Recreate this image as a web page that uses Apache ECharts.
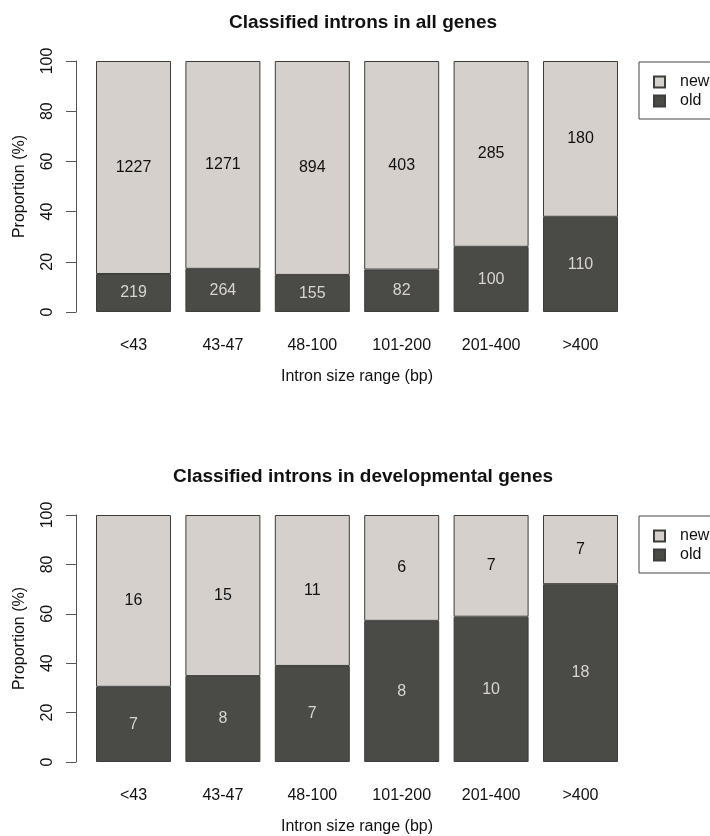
<!DOCTYPE html>
<html>
<head>
<meta charset="utf-8">
<script src="https://cdn.jsdelivr.net/npm/echarts@6/dist/echarts.min.js"></script>
<style>
html,body{margin:0;padding:0;background:#fff;}
#c{width:710px;height:836px;}
</style>
</head>
<body>
<div id="c"></div>
<script>
// ---- data ----
var categories = ['<43', '43-47', '48-100', '101-200', '201-400', '>400'];
var allOld = [219, 264, 155, 82, 100, 110];
var allNew = [1227, 1271, 894, 403, 285, 180];
var devOld = [7, 8, 7, 8, 10, 18];
var devNew = [16, 15, 11, 6, 7, 7];
var yTicks = [0, 20, 40, 60, 80, 100];
var titles = ['Classified introns in all genes', 'Classified introns in developmental genes'];

var FONT = '"Liberation Sans", Arial, Helvetica, sans-serif';
var NEW_COLOR = '#d5d0cc';
var OLD_COLOR = '#4a4a47';
var BORDER = '#3d3d3b';

function pct(a, b) {
  return a.map(function (v, i) { return { value: v / (v + b[i]) * 100, count: v }; });
}

var gridTops = [61, 515];
var gridH = 251;
var gridLeft = 88.8;
var gridW = 536.4;
var axisX = 76;

var option = {
  backgroundColor: '#ffffff',
  animation: false,
  textStyle: { fontFamily: FONT },
  title: [],
  legend: [],
  grid: [],
  xAxis: [],
  yAxis: [],
  series: []
};

var sets = [[allOld, allNew], [devOld, devNew]];

sets.forEach(function (s, gi) {
  var top = gridTops[gi];
  option.title.push({
    text: titles[gi],
    left: 358,
    textAlign: 'center',
    top: top - 53,
    textStyle: { fontFamily: FONT, fontSize: 19, fontWeight: 'bold', color: '#111' }
  });
  option.grid.push({ left: gridLeft, top: top, width: gridW, height: gridH, containLabel: false });
  option.xAxis.push({
    type: 'category',
    gridIndex: gi,
    data: categories,
    axisLine: { show: false },
    axisTick: { show: false },
    axisLabel: { margin: 26, fontSize: 16, color: '#111', fontFamily: FONT },
    name: 'Intron size range (bp)',
    nameLocation: 'middle',
    nameGap: 57,
    nameTextStyle: { fontSize: 16, color: '#111', fontFamily: FONT }
  });
  option.yAxis.push({
    type: 'value',
    gridIndex: gi,
    min: 0, max: 100, interval: 20,
    offset: gridLeft - axisX,
    splitLine: { show: false },
    axisLine: { show: true, lineStyle: { color: '#555', width: 1 } },
    axisTick: { show: true, length: 10, inside: false, lineStyle: { color: '#555' } },
    axisLabel: { rotate: 90, margin: 20, fontSize: 16, color: '#111', fontFamily: FONT },
    name: 'Proportion (%)',
    nameLocation: 'middle',
    nameGap: 48,
    nameTextStyle: { fontSize: 16, color: '#111', fontFamily: FONT }
  });
  option.legend.push({
    data: ['new', 'old'],
    orient: 'vertical',
    left: 639,
    top: top + 1,
    padding: [12, 12, 10, 14],
    itemWidth: 11,
    itemHeight: 11,
    itemGap: 3,
    borderColor: '#444',
    borderWidth: 1,
    selectedMode: false,
    icon: 'rect',
    textStyle: { fontSize: 16, color: '#111', fontFamily: FONT, padding: [0, 0, 0, 10] }
  });
  option.series.push({
    name: 'old',
    type: 'bar',
    stack: 's' + gi,
    xAxisIndex: gi, yAxisIndex: gi,
    barWidth: 75,
    data: pct(s[0], s[1]),
    itemStyle: { color: OLD_COLOR, borderColor: BORDER, borderWidth: 1 },
    label: {
      show: true, position: 'inside', fontSize: 16, color: '#d9d5d1', fontFamily: FONT,
      formatter: function (p) { return p.data.count; }
    }
  });
  option.series.push({
    name: 'new',
    type: 'bar',
    stack: 's' + gi,
    xAxisIndex: gi, yAxisIndex: gi,
    barWidth: 75,
    data: pct(s[1], s[0]),
    itemStyle: { color: NEW_COLOR, borderColor: BORDER, borderWidth: 1 },
    label: {
      show: true, position: 'inside', fontSize: 16, color: '#111', fontFamily: FONT,
      formatter: function (p) { return p.data.count; }
    }
  });
});

var chart = echarts.init(document.getElementById('c'), null, { renderer: 'canvas' });
chart.setOption(option);
</script>
</body>
</html>
